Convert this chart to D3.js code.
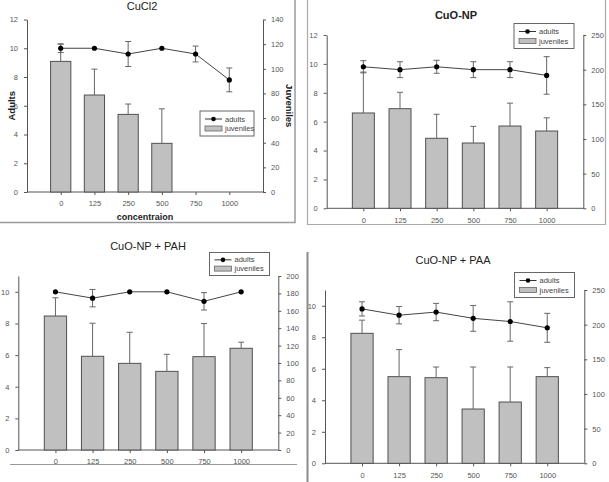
<!DOCTYPE html>
<html>
<head>
<meta charset="utf-8">
<script src="https://cdn.jsdelivr.net/npm/d3@7"></script>
<style>
  html, body { margin: 0; padding: 0; background: #fff; }
  svg { display: block; font-family: "Liberation Sans", Arial, sans-serif; }
</style>
</head>
<body>
<svg id="chart" width="609" height="482"></svg>
<script>
// ---------- DATA ----------
const categories = ["0", "125", "250", "500", "750", "1000"];

const cucl2Adults      = [10.0, 10.0, 9.6, 10.0, 9.6, 7.8];
const cucl2AdultsErr   = [0.3, 0, 0.87, 0, 0.55, 0.83];
const cucl2Juveniles   = [106, 78.7, 63, 39.5, 0, 0];
const cucl2JuvErr      = [14, 21, 8.4, 28, 0, 0];

const cuonpAdults      = [9.8, 9.6, 9.8, 9.6, 9.6, 9.2];
const cuonpAdultsErr   = [0.42, 0.55, 0.45, 0.55, 0.55, 1.3];
const cuonpJuveniles   = [137.5, 143.7, 101, 94.2, 118.7, 111.5];
const cuonpJuvErr      = [59, 23.6, 34.6, 24, 33, 19];

const pahAdults        = [10.0, 9.6, 10.0, 10.0, 9.4, 10.0];
const pahAdultsErr     = [0, 0.55, 0, 0, 0.55, 0];
const pahJuveniles     = [154, 107.7, 99.6, 90.4, 107.3, 116.9];
const pahJuvErr        = [21, 38, 35.7, 19.6, 38, 7];

const paaAdults        = [9.8, 9.4, 9.6, 9.2, 9.0, 8.6];
const paaAdultsErr     = [0.45, 0.55, 0.55, 0.82, 1.25, 0.92];
const paaJuveniles     = [187.5, 125, 123.5, 78.3, 88.4, 125];
const paaJuvErr        = [19, 39, 15.4, 60.6, 50.5, 13];

const leftTicks12  = [0, 2, 4, 6, 8, 10, 12];
const leftTicks11  = [0, 2, 4, 6, 8, 10];
const rightTicks140 = [0, 20, 40, 60, 80, 100, 120, 140];
const rightTicks200 = [0, 20, 40, 60, 80, 100, 120, 140, 160, 180, 200];
const rightTicks250 = [0, 50, 100, 150, 200, 250];

const titles = ["CuCl2", "CuO-NP", "CuO-NP + PAH", "CuO-NP + PAA"];
const legendLabels = ["adults", "juveniles"];
const axisTitles = { left: "Adults", right: "Juveniles", bottom: "concentraion" };

// ---------- LAYOUT ----------
const svg = d3.select("#chart");

// panel frames (decorative borders)
svg.append("path").attr("d", "M295,0 L295,222.5 L0,222.5")
  .attr("fill", "none").attr("stroke", "#9a9a9a").attr("stroke-width", 1.5);
svg.append("path").attr("d", "M307.5,0 L307.5,224.5 L605.5,224.5 L605.5,0")
  .attr("fill", "none").attr("stroke", "#aaaaaa").attr("stroke-width", 1.2);
svg.append("line").attr("x1", 10).attr("x2", 297).attr("y1", 464.5).attr("y2", 464.5)
  .attr("stroke", "#999").attr("stroke-width", 1.2);
svg.append("line").attr("x1", 307.5).attr("x2", 307.5).attr("y1", 252).attr("y2", 482)
  .attr("stroke", "#8a8a8a").attr("stroke-width", 2);

const panels = [
  { title: titles[0], bold: false, tx: 142, ty: 10,
    x0: 27, x1: 263, y0: 192, y1: 19.5, leftMax: 12, leftTicks: leftTicks12,
    rightMax: 140, rightTicks: rightTicks140,
    adults: cucl2Adults, adultsErr: cucl2AdultsErr, juv: cucl2Juveniles, juvErr: cucl2JuvErr,
    legend: [200, 111, 54, 25], axisLabels: true, tickY: 204 },
  { title: titles[1], bold: true, tx: 456, ty: 19,
    x0: 326.7, x1: 583.3, y0: 208.3, y1: 35, leftMax: 12, leftTicks: leftTicks12,
    rightMax: 250, rightTicks: rightTicks250,
    adults: cuonpAdults, adultsErr: cuonpAdultsErr, juv: cuonpJuveniles, juvErr: cuonpJuvErr,
    legend: [514, 23.5, 60, 25], axisLabels: false },
  { title: titles[2], bold: false, tx: 148, ty: 250,
    x0: 18.3, x1: 278.3, y0: 450, y1: 276, leftMax: 11, leftTicks: leftTicks11,
    rightMax: 200, rightTicks: rightTicks200,
    adults: pahAdults, adultsErr: pahAdultsErr, juv: pahJuveniles, juvErr: pahJuvErr,
    legend: [209.5, 252.5, 60, 23], axisLabels: false },
  { title: titles[3], bold: false, tx: 453, ty: 264,
    x0: 325, x1: 584.3, y0: 463.3, y1: 290, leftMax: 11, leftTicks: leftTicks11,
    rightMax: 250, rightTicks: rightTicks250,
    adults: paaAdults, adultsErr: paaAdultsErr, juv: paaJuveniles, juvErr: paaJuvErr,
    legend: [514.5, 272.5, 60, 25], axisLabels: false }
];

const axisColor = "#555";
const tickTextColor = "#555";

panels.forEach(p => {
  const g = svg.append("g");
  const x = d3.scalePoint().domain(categories).range([p.x0, p.x1]).padding(1);
  const yL = d3.scaleLinear().domain([0, p.leftMax]).range([p.y0, p.y1]);
  const yR = d3.scaleLinear().domain([0, p.rightMax]).range([p.y0, p.y1]);
  const bw = x.step() * 0.6;

  // title
  g.append("text").attr("x", p.tx).attr("y", p.ty).attr("text-anchor", "middle")
    .attr("font-size", 11).attr("font-weight", p.bold ? "bold" : "normal")
    .attr("fill", "#222").text(p.title);

  // axes
  const styleAxis = sel => {
    sel.select(".domain").attr("stroke", axisColor);
    sel.selectAll(".tick line").attr("stroke", axisColor);
    sel.selectAll(".tick text").attr("fill", tickTextColor).attr("font-size", 7.5)
      .attr("font-family", "Liberation Sans, Arial, sans-serif");
  };
  g.append("g").attr("transform", `translate(${p.x0},0)`)
    .call(d3.axisLeft(yL).tickValues(p.leftTicks).tickSize(3).tickSizeOuter(0).tickPadding(6))
    .call(styleAxis);
  g.append("g").attr("transform", `translate(${p.x1},0)`)
    .call(d3.axisRight(yR).tickValues(p.rightTicks).tickSize(3).tickSizeOuter(0).tickPadding(5))
    .call(styleAxis);
  const xa = g.append("g").attr("transform", `translate(0,${p.y0})`)
    .call(d3.axisBottom(x).tickSize(3).tickPadding(6))
    .call(styleAxis);
  xa.select(".domain").attr("d", `M${p.x0},0H${p.x1}`);

  // bars
  g.selectAll(".bar").data(p.juv).enter().append("rect")
    .attr("x", (d, i) => x(categories[i]) - bw / 2)
    .attr("width", bw)
    .attr("y", d => yR(d))
    .attr("height", d => p.y0 - yR(d))
    .attr("fill", "#c0c0c0").attr("stroke", "#505050").attr("stroke-width", 1)
    .attr("display", d => d > 0 ? null : "none");

  // juvenile error bars (upward)
  p.juv.forEach((d, i) => {
    const e = p.juvErr[i];
    if (!e) return;
    const cx = x(categories[i]);
    g.append("line").attr("x1", cx).attr("x2", cx).attr("y1", yR(d)).attr("y2", yR(d + e))
      .attr("stroke", "#666").attr("stroke-width", 1);
    g.append("line").attr("x1", cx - 3).attr("x2", cx + 3).attr("y1", yR(d + e)).attr("y2", yR(d + e))
      .attr("stroke", "#666").attr("stroke-width", 1);
  });

  // adults line
  const line = d3.line().x((d, i) => x(categories[i])).y(d => yL(d));
  g.append("path").datum(p.adults).attr("d", line)
    .attr("fill", "none").attr("stroke", "#444").attr("stroke-width", 1);

  // adults error bars
  p.adults.forEach((d, i) => {
    const e = p.adultsErr[i];
    if (!e) return;
    const cx = x(categories[i]);
    g.append("line").attr("x1", cx).attr("x2", cx).attr("y1", yL(d - e)).attr("y2", yL(d + e))
      .attr("stroke", "#666").attr("stroke-width", 1);
    [d - e, d + e].forEach(v => {
      g.append("line").attr("x1", cx - 3).attr("x2", cx + 3).attr("y1", yL(v)).attr("y2", yL(v))
        .attr("stroke", "#666").attr("stroke-width", 1);
    });
  });

  // adults points
  g.selectAll(".pt").data(p.adults).enter().append("circle")
    .attr("cx", (d, i) => x(categories[i])).attr("cy", d => yL(d))
    .attr("r", 2.6).attr("fill", "#000");

  // legend
  const [lx, ly, lw, lh] = p.legend;
  const lg = g.append("g");
  lg.append("rect").attr("x", lx).attr("y", ly).attr("width", lw).attr("height", lh)
    .attr("fill", "#fff").attr("stroke", "#666").attr("stroke-width", 1);
  const r1 = ly + lh * 0.32, r2 = ly + lh * 0.70;
  lg.append("line").attr("x1", lx + 5).attr("x2", lx + 22).attr("y1", r1).attr("y2", r1)
    .attr("stroke", "#333");
  lg.append("circle").attr("cx", lx + 13.5).attr("cy", r1).attr("r", 2.3).attr("fill", "#000");
  lg.append("rect").attr("x", lx + 5).attr("y", r2 - 2.5).attr("width", 17).attr("height", 5)
    .attr("fill", "#c0c0c0").attr("stroke", "#666").attr("stroke-width", 0.8);
  lg.append("text").attr("x", lx + 25).attr("y", r1 + 2.6).attr("font-size", 7.5)
    .attr("fill", "#444").text(legendLabels[0]);
  lg.append("text").attr("x", lx + 25).attr("y", r2 + 2.6).attr("font-size", 7.5)
    .attr("fill", "#444").text(legendLabels[1]);

  if (p.axisLabels) {
    g.append("text").attr("transform", `translate(15,${(p.y0 + p.y1) / 2}) rotate(-90)`)
      .attr("text-anchor", "middle").attr("font-size", 9.5).attr("font-weight", "bold")
      .attr("fill", "#222").text(axisTitles.left);
    g.append("text").attr("transform", `translate(286,${(p.y0 + p.y1) / 2}) rotate(90)`)
      .attr("text-anchor", "middle").attr("font-size", 9.5).attr("font-weight", "bold")
      .attr("fill", "#222").text(axisTitles.right);
    g.append("text").attr("x", (p.x0 + p.x1) / 2).attr("y", 219.5)
      .attr("text-anchor", "middle").attr("font-size", 9).attr("font-weight", "bold")
      .attr("fill", "#222").text(axisTitles.bottom);
  }
});
</script>
</body>
</html>
